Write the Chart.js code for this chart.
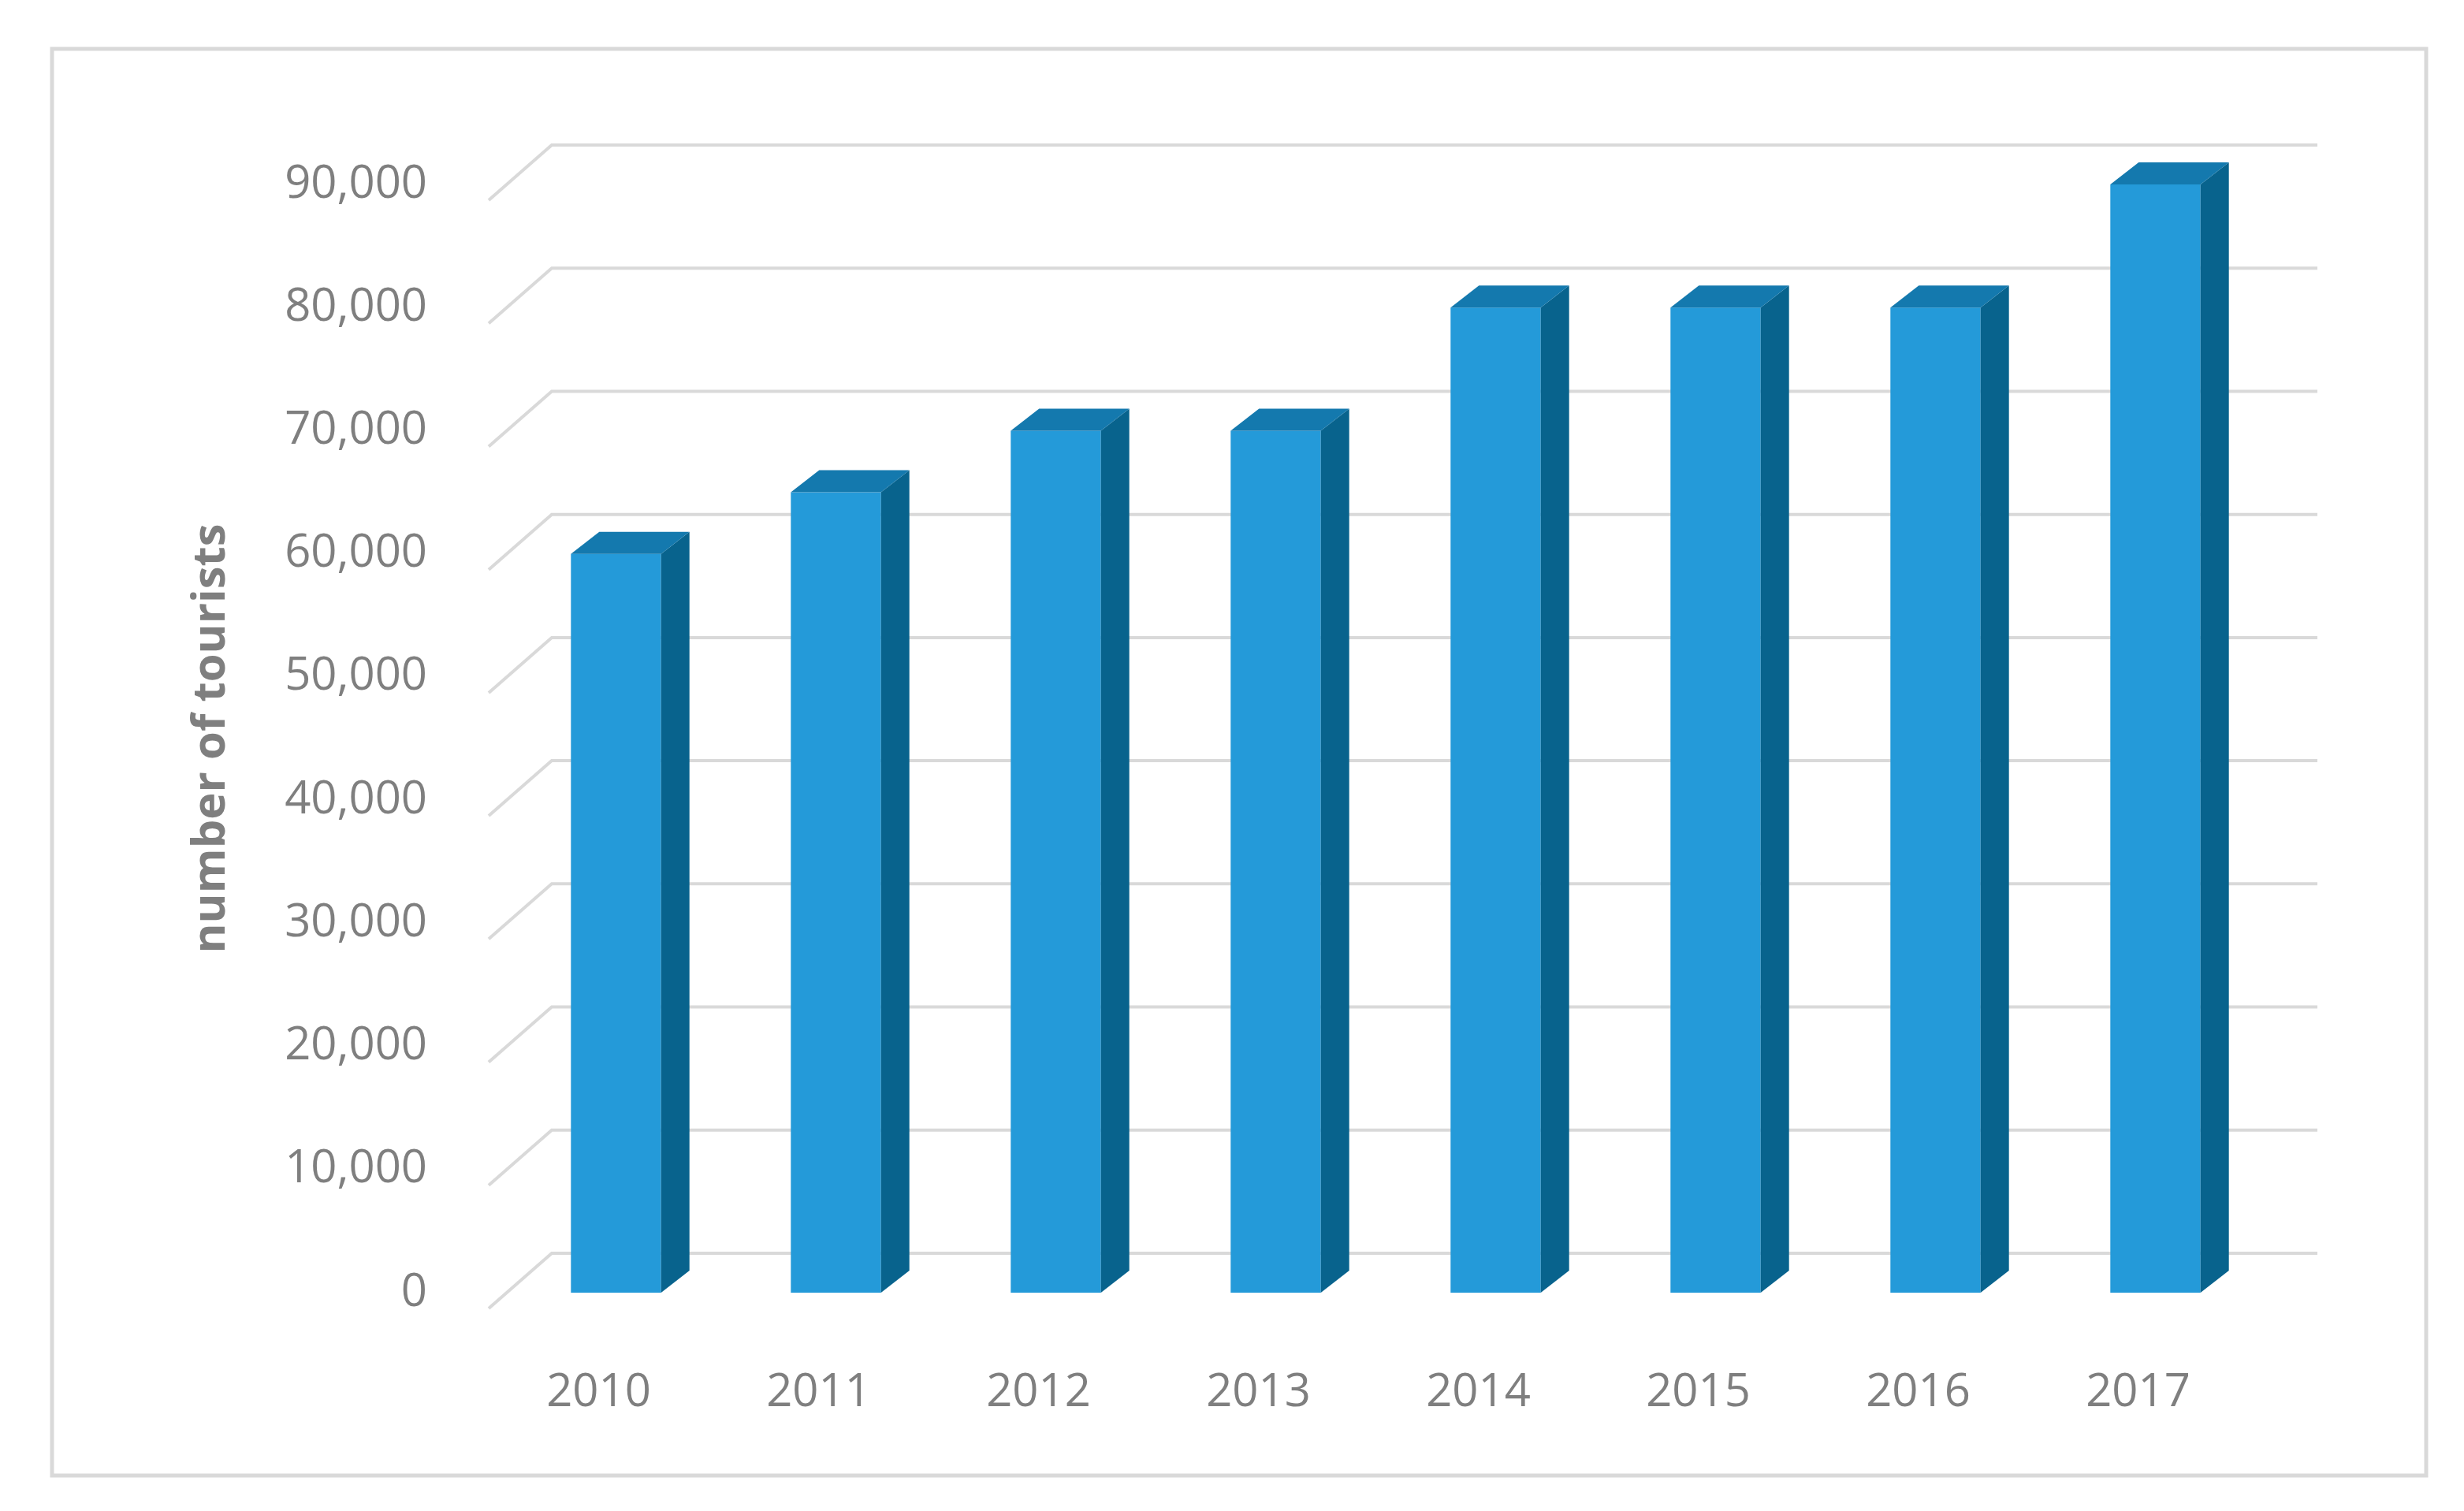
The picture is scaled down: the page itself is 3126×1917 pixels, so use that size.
<!DOCTYPE html>
<html>
<head>
<meta charset="utf-8">
<script src="https://cdn.jsdelivr.net/npm/chart.js@4"></script>
<style>
  html, body { margin: 0; padding: 0; background: #fff; }
</style>
</head>
<body>
<canvas id="c" width="3126" height="1917"></canvas>
<script>
const years = ['2010', '2011', '2012', '2013', '2014', '2015', '2016', '2017'];
const tourists = [60000, 65000, 70000, 70000, 80000, 80000, 80000, 90000];

const FRONT = '#249ad9';
const SIDE = '#08638d';
const TOP = '#1479ae';
const GRID = '#d9d9d9';

// depth of the fake 3d box
const depthX = 36, depthY = 28, shiftX = 22;

const frame3d = {
    id: 'frame3d',
    beforeDraw(chart) {
        const { ctx, chartArea, scales } = chart;
        ctx.save();
        ctx.fillStyle = '#fff';
        ctx.fillRect(0, 0, chart.width, chart.height);
        ctx.strokeStyle = GRID;
        ctx.lineWidth = 5;
        ctx.strokeRect(66, 62, 3012, 1810);

        // back wall grid with diagonal floor lines
        ctx.lineWidth = 4;
        scales.y.ticks.forEach(t => {
            const y = scales.y.getPixelForValue(t.value);
            ctx.beginPath();
            ctx.moveTo(chartArea.left, y + 20);
            ctx.lineTo(chartArea.left + 80, y - 50);
            ctx.lineTo(chartArea.right + 88, y - 50);
            ctx.stroke();
        });
        ctx.restore();
    },
    afterDatasetsDraw(chart) {
        const { ctx } = chart;
        const meta = chart.getDatasetMeta(0);
        ctx.save();
        meta.data.forEach(bar => {
            const w = bar.width;
            const l = bar.x - w / 2 + shiftX, r = l + w;
            const top = bar.y, base = bar.base;
            ctx.fillStyle = FRONT;
            ctx.fillRect(l, top, w, base - top);
            ctx.fillStyle = SIDE;
            ctx.beginPath();
            ctx.moveTo(r, top);
            ctx.lineTo(r + depthX, top - depthY);
            ctx.lineTo(r + depthX, base - depthY);
            ctx.lineTo(r, base);
            ctx.closePath();
            ctx.fill();
            ctx.fillStyle = TOP;
            ctx.beginPath();
            ctx.moveTo(l, top);
            ctx.lineTo(l + depthX, top - depthY);
            ctx.lineTo(r + depthX, top - depthY);
            ctx.lineTo(r, top);
            ctx.closePath();
            ctx.fill();
        });
        ctx.restore();
    }
};

new Chart(document.getElementById('c').getContext('2d'), {
    type: 'bar',
    data: {
        labels: years,
        datasets: [{
            label: 'number of tourists',
            data: tourists,
            backgroundColor: 'rgba(0,0,0,0)',
            barPercentage: 0.41,
            categoryPercentage: 1
        }]
    },
    options: {
        responsive: false,
        devicePixelRatio: 1,
        animation: false,
        layout: { padding: { left: 230, right: 274, top: 234, bottom: 117 } },
        plugins: { legend: { display: false }, tooltip: { enabled: false } },
        scales: {
            x: {
                grid: { display: false },
                border: { display: false },
                ticks: { color: '#7f7f7f', padding: 85, font: { family: 'Open Sans', size: 58 } },
                afterFit: s => { s.height = 160; }
            },
            y: {
                min: 0,
                max: 90000,
                grid: { display: false },
                border: { display: false },
                ticks: {
                    stepSize: 10000,
                    padding: 70,
                    color: '#7f7f7f',
                    font: { family: 'Open Sans', size: 58 },
                    callback: v => v.toLocaleString('en-US')
                },
                title: {
                    display: true,
                    text: 'number of tourists',
                    color: '#7f7f7f',
                    font: { family: 'Open Sans', size: 58, weight: 'bold' }
                },
                afterFit: s => { s.width = 390; }
            }
        }
    },
    plugins: [frame3d]
});
</script>
</body>
</html>
